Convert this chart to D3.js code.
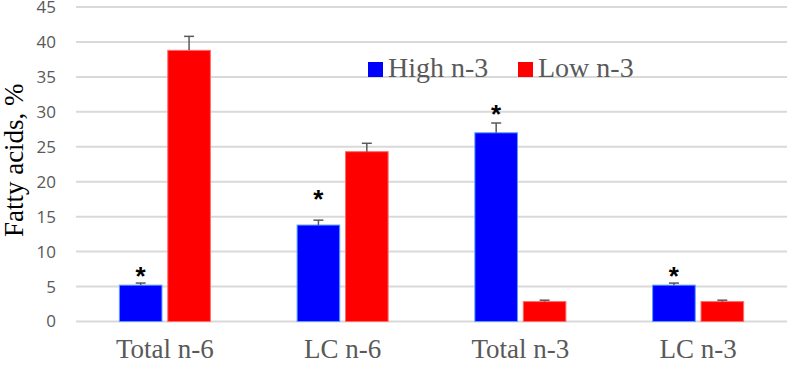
<!DOCTYPE html>
<html lang="en-US">
<head>
  <meta charset="UTF-8"/>
  <title>Fatty acids</title>
  <style>
    body { margin: 0; background: #fff; }
    .tick-label { font-family: "Open Sans", "Noto Sans", sans-serif; font-size: 17px; fill: #595959; }
    .cat-label  { font-family: "Liberation Serif", "Times New Roman", serif; font-size: 27px; fill: #595959; }
    .legend-label { font-family: "Liberation Serif", "Times New Roman", serif; font-size: 28px; fill: #595959; }
  </style>
</head>
<body>
<script src="https://cdn.jsdelivr.net/npm/d3@7"></script>
<script>

// data
var categories = ["Total n-6", "LC n-6", "Total n-3", "LC n-3"];
var seriesNames = ["High n-3", "Low n-3"];
var seriesColors = ["#0000ff", "#ff0000"];
var seriesStroke = ["#5b9bff", "#ff6b6b"];
var highValues = [5.2, 13.8, 27.0, 5.2];
var lowValues  = [38.8, 24.3, 2.85, 2.85];
var highErr    = [0.3, 0.7, 1.4, 0.3];
var lowErr     = [2.0, 1.2, 0.2, 0.2];
var starY      = [7.3, 18.3, 30.5, 7.3];   // asterisk positions on the High n-3 bars
var yTicks     = [0, 5, 10, 15, 20, 25, 30, 35, 40, 45];

var W = 789, H = 365;
var margin = {top: 7, right: 2, bottom: 43.5, left: 76}
  , width  = W - margin.left - margin.right
  , height = H - margin.top - margin.bottom;

var svg = d3.select("body").append("svg")
    .attr("width", W)
    .attr("height", H);

var g = svg.append("g")
    .attr("transform", "translate(" + margin.left + "," + margin.top + ")");

var x = d3.scaleBand().domain(categories).range([0, width]);
var xs = d3.scaleBand().domain(seriesNames).range([0, 91]).paddingInner(0.12);
var y = d3.scaleLinear().domain([0, 45]).range([height, 0]);

// grid lines
g.append("g")
    .selectAll("line")
    .data(yTicks)
    .enter().append("line")
      .attr("x1", 0)
      .attr("x2", width)
      .attr("y1", function(d) { return y(d); })
      .attr("y2", function(d) { return y(d); })
      .attr("stroke", "#d9d9d9")
      .attr("stroke-width", 2);

// y tick labels
var yAxis = g.append("g")
    .call(d3.axisLeft(y).tickValues(yTicks).tickSize(0).tickPadding(20));
yAxis.select(".domain").remove();
yAxis.selectAll("text").attr("class", "tick-label").attr("fill", null).attr("font-size", null).attr("font-family", null);

// x labels
var xAxis = g.append("g")
    .attr("transform", "translate(0," + height + ")")
    .call(d3.axisBottom(x).tickSize(0).tickPadding(17));
xAxis.select(".domain").remove();
xAxis.selectAll("text").attr("class", "cat-label").attr("fill", null).attr("font-size", null).attr("font-family", null);

// y axis title
svg.append("text")
    .attr("transform", "translate(23," + (margin.top + height / 2 - 4) + ") rotate(-90)")
    .attr("text-anchor", "middle")
    .attr("font-family", "Liberation Serif, Times New Roman, serif")
    .attr("font-size", 27)
    .attr("fill", "#000")
    .text("Fatty acids, %");

// bars
var rows = categories.map(function(c, i) {
  return [
    {cat: c, s: 0, v: highValues[i], e: highErr[i]},
    {cat: c, s: 1, v: lowValues[i],  e: lowErr[i]}
  ];
});

var groups = g.selectAll(".grp")
    .data(rows)
    .enter().append("g")
      .attr("class", "grp")
      .attr("transform", function(d) { return "translate(" + (x(d[0].cat) + x.bandwidth() / 2 - 45.5) + ",0)"; });

groups.selectAll("rect")
    .data(function(d) { return d; })
    .enter().append("rect")
      .attr("x", function(d) { return xs(seriesNames[d.s]); })
      .attr("width", xs.bandwidth())
      .attr("y", function(d) { return y(d.v); })
      .attr("height", function(d) { return y(0) - y(d.v); })
      .attr("fill", function(d) { return seriesColors[d.s]; })
      .attr("stroke", function(d) { return seriesStroke[d.s]; })
      .attr("stroke-width", 1);

// error bars
var eb = groups.selectAll(".err")
    .data(function(d) { return d; })
    .enter().append("g")
      .attr("class", "err")
      .attr("stroke", "#595959")
      .attr("stroke-width", 1.5);
eb.append("line")
    .attr("x1", function(d) { return xs(seriesNames[d.s]) + xs.bandwidth() / 2; })
    .attr("x2", function(d) { return xs(seriesNames[d.s]) + xs.bandwidth() / 2; })
    .attr("y1", function(d) { return y(d.v); })
    .attr("y2", function(d) { return y(d.v + d.e); });
eb.append("line")
    .attr("x1", function(d) { return xs(seriesNames[d.s]) + xs.bandwidth() / 2 - 5; })
    .attr("x2", function(d) { return xs(seriesNames[d.s]) + xs.bandwidth() / 2 + 5; })
    .attr("y1", function(d) { return y(d.v + d.e); })
    .attr("y2", function(d) { return y(d.v + d.e); });

// asterisks
groups.append("text")
    .attr("x", xs(seriesNames[0]) + xs.bandwidth() / 2)
    .attr("y", function(d, i) { return y(starY[i]); })
    .attr("dy", "0.57em")
    .attr("text-anchor", "middle")
    .attr("font-family", "Liberation Sans, Arial, sans-serif")
    .attr("font-weight", "bold")
    .attr("font-size", 26)
    .attr("fill", "#000")
    .text("*");

// legend
var legendX = [368, 518];
var legend = svg.append("g").selectAll("g")
    .data(seriesNames)
    .enter().append("g")
      .attr("transform", function(d, i) { return "translate(" + legendX[i] + ",62)"; });
legend.append("rect")
    .attr("width", 15)
    .attr("height", 15)
    .attr("fill", function(d, i) { return seriesColors[i]; });
legend.append("text")
    .attr("class", "legend-label")
    .attr("x", 20)
    .attr("y", 14.5)
    .text(function(d) { return d; });

</script>
</body>
</html>
